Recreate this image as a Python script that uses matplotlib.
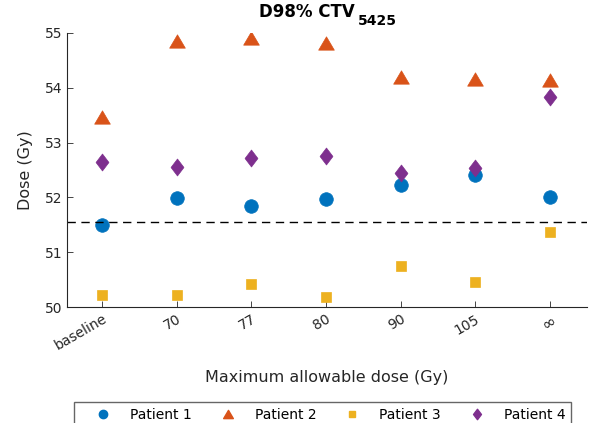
import numpy as np
import matplotlib.pyplot as plt
from matplotlib.lines import Line2D
from matplotlib.path import Path

plt.rcParams['font.family'] = ['DejaVu Sans']

# x categories (maximum allowable dose)
dose_labels = ['baseline', '70', '77', '80', '90', '105', '∞']

# D98% of CTV_5425 per patient (Gy)
patient1 = [51.49, 51.99, 51.84, 51.98, 52.23, 52.40, 52.00]
patient2 = [53.47, 54.85, 54.90, 54.81, 54.20, 54.16, 54.14]
patient3 = [50.22, 50.22, 50.42, 50.18, 50.75, 50.45, 51.37]
patient4 = [52.65, 52.55, 52.72, 52.76, 52.45, 52.53, 53.83]

reference_dose = 51.55

# flatter triangle and narrow diamond, closer to MATLAB's marker shapes
tri = Path([(-1, -0.85), (1, -0.85), (0, 0.85), (-1, -0.85)], closed=True)
dia = Path([(0, 1), (0.76, 0), (0, -1), (-0.76, 0), (0, 1)], closed=True)

colors = ['#0072BD', '#D95319', '#EDB120', '#7E2F8E']
markers = ['o', tri, 's', dia]
sizes = [9.8, 11.3, 7.5, 12.2]
legend_sizes = [6, 7, 4.5, 7.5]
names = ['Patient 1', 'Patient 2', 'Patient 3', 'Patient 4']

fig = plt.figure(figsize=(5.9, 4.23), dpi=100)
ax = fig.add_axes([0.1136, 0.2742, 0.8814, 0.6478])

x = np.arange(1, len(dose_labels) + 1)
for vals, c, m, s in zip([patient1, patient2, patient3, patient4], colors, markers, sizes):
    ax.plot(x, vals, linestyle='none', marker=m, color=c, markersize=s,
            markeredgecolor=c, markeredgewidth=0.5)

ax.axhline(reference_dose, color='black', linestyle=(0, (6, 4)), linewidth=1)

ax.set_xlim(0.53, 7.5)
ax.set_ylim(50, 55)
ax.set_xticks(x)
ax.set_xticklabels(dose_labels, rotation=30, ha='right', rotation_mode='anchor')
ax.set_yticks([50, 51, 52, 53, 54, 55])
ax.tick_params(direction='in', length=4, width=0.6, colors='#262626',
               labelsize=10, labelcolor='#262626')
ax.get_xticklabels()[-1].set_fontsize(12)
for sp in ['top', 'right']:
    ax.spines[sp].set_visible(False)
for sp in ['left', 'bottom']:
    ax.spines[sp].set_color('#262626')
    ax.spines[sp].set_linewidth(0.8)

ax.set_xlabel('Maximum allowable dose (Gy)', fontsize=11.5, color='#262626', labelpad=12)
ax.set_ylabel('Dose (Gy)', fontsize=11.5, color='#262626', labelpad=8)

# title with a full-weight subscript
fig.text(0.6017, 0.9598, 'D98% CTV', fontsize=12, fontweight='bold',
         ha='right', va='baseline')
fig.text(0.6068, 0.9409, '5425', fontsize=10, fontweight='bold',
         ha='left', va='baseline')

handles = [Line2D([], [], linestyle='none', marker=m, color=c, markersize=s)
           for m, c, s in zip(markers, colors, legend_sizes)]
fig.legend(handles, names, ncol=4, loc='upper left',
           bbox_to_anchor=(74 / 590, 1 - 402 / 423), borderaxespad=0,
           frameon=True, fancybox=False, edgecolor='#404040', fontsize=10,
           handlelength=3.37, handletextpad=0.26, columnspacing=0.9,
           borderpad=0.4)

fig.savefig('out.png', dpi=100)
